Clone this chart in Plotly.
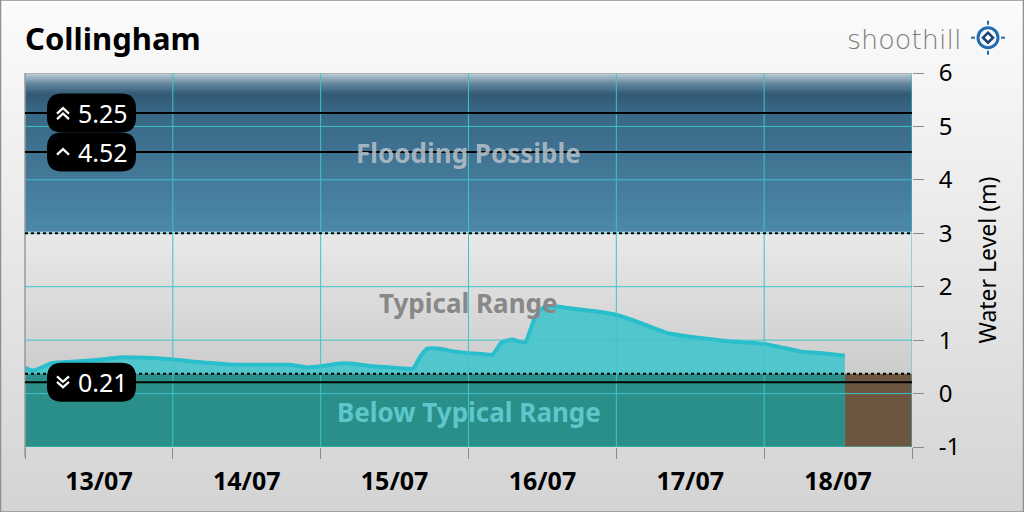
import plotly.graph_objects as go
import pandas as pd

# ---------------- data ----------------
station = "Collingham"
start_date = "2025-07-13"
end_date = "2025-07-19"
hours = [0, 1.3, 4.4, 7.0, 10.6, 13.5, 15.7, 19.5, 24, 28.1, 32.5, 35.7, 40.3, 43.0,
         45.8, 48, 50.7, 53.3, 56.5, 59.3, 63.0, 64.1, 65.3, 67.4, 69.5, 74.2, 75.9,
         77.4, 79.0, 81.2, 82.0, 82.8, 83.9, 85.6, 88.2, 92.6, 95.8, 100.2, 104.4,
         109.6, 114.4, 120, 122.6, 125.8, 129.1, 133.1]
levels = [0.48, 0.43, 0.57, 0.59, 0.62, 0.65, 0.68, 0.67, 0.64, 0.59, 0.55, 0.54, 0.54, 0.54,
          0.49, 0.51, 0.56, 0.56, 0.51, 0.49, 0.47, 0.68, 0.84, 0.84, 0.79, 0.74, 0.73,
          0.96, 1.01, 0.96, 1.18, 1.43, 1.59, 1.64, 1.60, 1.54, 1.48, 1.31, 1.13,
          1.04, 0.98, 0.93, 0.87, 0.79, 0.76, 0.71]
typical_low = 0.37
typical_high = 3.0
y_min, y_max = -1, 6
y_tickvals = [-1, 0, 1, 2, 3, 4, 5, 6]
y_ticktext = ["-1", "0", "1", "2", "3", "4", "5", "6"]
thresholds = [5.25, 4.52, 0.21]
threshold_icons = ["up2", "up1", "down2"]
zone_labels = ["Flooding Possible", "Typical Range", "Below Typical Range"]
zone_label_levels = [4.5, 1.69, -0.34]
zone_label_colors = ["rgba(178,190,200,0.9)", "#888888", "#5ec7cb"]
y_title = "Water Level (m)"

# ---------------- helpers ----------------
PL, PR, PT, PB = 25, 912, 73.3, 446.7
def px(x):
    return (x - PL) / (PR - PL)
def py(y):
    return (PB - y) / (PB - PT)
def lerp(c1, c2, f):
    return tuple(round(a + (b - a) * f) for a, b in zip(c1, c2))
def piece(knots, v):
    for (v1, c1), (v2, c2) in zip(knots, knots[1:]):
        if v1 <= v <= v2:
            return lerp(c1, c2, (v - v1) / (v2 - v1) if v2 != v1 else 0)
    return knots[-1][1]
def rgb(c):
    return "rgb(%d,%d,%d)" % c

t0 = pd.Timestamp(start_date)
t_end = pd.Timestamp(end_date)
times = [t0 + pd.Timedelta(hours=h) for h in hours]
last_time = times[-1]
days = pd.date_range(t0, t_end, freq="D")

FONT = "Noto Sans"
fig = go.Figure()
fig.add_trace(go.Scatter(
    x=times, y=levels, mode="lines",
    line=dict(color="#28becc", width=4, shape="spline", smoothing=0.5),
    fill="tozeroy", fillcolor="#52c6cd", hoverinfo="skip", showlegend=False))

shapes = []
# page background gradient
n = 40
for i in range(n):
    y0p, y1p = 512 * i / n, 512 * (i + 1) / n
    c = lerp((251, 251, 251), (212, 212, 212), (i + 0.5) / n)
    shapes.append(dict(type="rect", xref="paper", yref="paper", x0=px(0), x1=px(1024),
                       y0=py(y1p + 1), y1=py(y0p), fillcolor=rgb(c), line_width=0, layer="below"))
# flood zone gradient
flood_knots = [(3.0, (77, 137, 168)), (5.3, (57, 103, 133)), (5.6, (50, 90, 118)),
               (5.8, (100, 134, 157)), (6.0, (196, 209, 219))]
n = 70
for i in range(n):
    v0 = typical_high + (y_max - typical_high) * i / n
    v1 = typical_high + (y_max - typical_high) * (i + 1) / n
    c = piece(flood_knots, (v0 + v1) / 2)
    shapes.append(dict(type="rect", xref="x domain", yref="y", x0=0, x1=1, y0=v0, y1=min(v1 + 0.03, y_max),
                       fillcolor=rgb(c), line_width=0, layer="below"))
# typical zone gradient
n = 40
for i in range(n):
    v0 = typical_low + (typical_high - typical_low) * i / n
    v1 = typical_low + (typical_high - typical_low) * (i + 1) / n
    c = lerp((204, 204, 204), (233, 233, 233), (i + 0.5) / n)
    shapes.append(dict(type="rect", xref="x domain", yref="y", x0=0, x1=1, y0=v0, y1=v1 + 0.03,
                       fillcolor=rgb(c), line_width=0, layer="below"))
# below-typical zone: teal under data, brown after data end
shapes.append(dict(type="rect", xref="x", yref="y", x0=t0, x1=last_time, y0=y_min, y1=typical_low,
                   fillcolor="#2a8f89", line_width=0, layer="above"))
shapes.append(dict(type="rect", xref="x", yref="y", x0=last_time, x1=t_end, y0=y_min, y1=typical_low,
                   fillcolor="#6d5640", line_width=0, layer="above"))
# grid lines (above fills)
grid_c = "#3fc3c9"
for d in days[1:]:
    shapes.append(dict(type="line", xref="x", yref="y domain", x0=d, x1=d, y0=0, y1=1,
                       line=dict(color=grid_c, width=1), layer="above"))
for v in range(y_min, y_max):
    shapes.append(dict(type="line", xref="x domain", yref="y", x0=0, x1=1, y0=v, y1=v,
                       line=dict(color=grid_c, width=1), layer="above"))
shapes.append(dict(type="line", xref="x domain", yref="y", x0=0, x1=1, y0=y_max, y1=y_max,
                   line=dict(color="#9a9a9a", width=1), layer="above"))
shapes.append(dict(type="line", xref="paper", yref="paper", x0=0, x1=0, y0=py(457), y1=1,
                   line=dict(color="#9a9a9a", width=1.5), layer="above"))
# dotted zone boundaries
for v in (typical_high, typical_low):
    shapes.append(dict(type="line", xref="x domain", yref="y", x0=0, x1=1, y0=v, y1=v,
                       line=dict(color="black", width=2, dash="dot"), layer="above"))
# threshold lines
for v in thresholds:
    shapes.append(dict(type="line", xref="x domain", yref="y", x0=0, x1=1, y0=v, y1=v,
                       line=dict(color="black", width=2), layer="above"))

# threshold labels (rounded pills)
box_cx = px(91.5)
W, H, R = 44.5, 19.5, 15
pill = (f"M {-W+R},{-H} L {W-R},{-H} Q {W},{-H} {W},{-H+R} L {W},{H-R} Q {W},{H} {W-R},{H} "
        f"L {-W+R},{H} Q {-W},{H} {-W},{H-R} L {-W},{-H+R} Q {-W},{-H} {-W+R},{-H} Z")
chev = {
    "up2": ["M -6,-0.5 L 0,5 L 6,-0.5", "M -6,-6 L 0,-0.5 L 6,-6"],
    "up1": ["M -6,-2.5 L 0,3 L 6,-2.5"],
    "down2": ["M -6,6 L 0,0.5 L 6,6", "M -6,0.5 L 0,-5 L 6,0.5"],
}
annotations = []
for v, ic in zip(thresholds, threshold_icons):
    shapes.append(dict(type="path", xref="paper", yref="y", xsizemode="pixel", ysizemode="pixel",
                       xanchor=box_cx, yanchor=v, path=pill, fillcolor="black",
                       line_width=0, layer="above"))
    for p in chev[ic]:
        shapes.append(dict(type="path", xref="paper", yref="y", xsizemode="pixel", ysizemode="pixel",
                           xanchor=px(63), yanchor=v, path=p,
                           line=dict(color="white", width=2.2), layer="above"))
    annotations.append(dict(xref="paper", yref="y", x=px(103), y=v, text=f"{v:.2f}",
                            showarrow=False, font=dict(family=FONT, size=25, color="white"),
                            xanchor="center", yanchor="middle"))

# zone labels
for t, v, c in zip(zone_labels, zone_label_levels, zone_label_colors):
    annotations.append(dict(xref="paper", yref="y", x=0.5, y=v, text=t, showarrow=False,
                            font=dict(family=FONT, size=26, color=c, weight="bold"),
                            xanchor="center", yanchor="middle"))

# title
annotations.append(dict(xref="paper", yref="paper", x=px(23), y=py(38), text=station,
                        showarrow=False, xanchor="left", yanchor="middle",
                        font=dict(family=FONT, size=31, color="black", weight="bold")))
# logo
annotations.append(dict(xref="paper", yref="paper", x=px(904), y=py(40), text="shoothill",
                        showarrow=False, xanchor="center", yanchor="middle",
                        font=dict(family="DejaVu Sans", size=27, color="#7c7c7c", weight=200)))
lx, ly = px(988), py(38)
blue = "#1f6db0"
shapes.append(dict(type="circle", xref="paper", yref="paper", xsizemode="pixel", ysizemode="pixel",
                   xanchor=lx, yanchor=ly, x0=-10, x1=10, y0=-10, y1=10,
                   line=dict(color=blue, width=3), layer="above"))
shapes.append(dict(type="path", xref="paper", yref="paper", xsizemode="pixel", ysizemode="pixel",
                   xanchor=lx, yanchor=ly, path="M 0,5 L 5,0 L 0,-5 L -5,0 Z",
                   line=dict(color="#17407a", width=2.5), layer="above"))
for p in ["M 0,13 L 0,17", "M 0,-13 L 0,-17", "M 13,0 L 17,0", "M -13,0 L -17,0"]:
    shapes.append(dict(type="path", xref="paper", yref="paper", xsizemode="pixel", ysizemode="pixel",
                       xanchor=lx, yanchor=ly, path=p, line=dict(color=blue, width=2), layer="above"))
# page border
shapes.append(dict(type="rect", xref="paper", yref="paper", x0=px(0.5), x1=px(1023.5),
                   y0=py(511.5), y1=py(0.5), line=dict(color="#8f8f8f", width=1.5),
                   fillcolor="rgba(0,0,0,0)", layer="above"))

fig.update_layout(
    width=1024, height=512,
    margin=dict(l=25, r=112, t=73, b=65, pad=0),
    paper_bgcolor="#e6e6e6", plot_bgcolor="rgba(0,0,0,0)",
    shapes=shapes, annotations=annotations, hovermode=False, showlegend=False,
    xaxis=dict(type="date", range=[t0, t_end], showgrid=False, zeroline=False, showline=False,
               tick0=t0, dtick=86400000, tickformat="%d/%m", ticklabelmode="period",
               ticks="outside", ticklen=11, tickcolor="#8a8a8a", tickwidth=1,
               ticklabelstandoff=1,
               tickfont=dict(family=FONT, size=25, color="black", weight="bold")),
    yaxis=dict(range=[y_min, y_max], side="right", showgrid=False, zeroline=False,
               tickvals=y_tickvals, ticktext=y_ticktext,
               showline=False, ticks="outside", ticklen=11, tickcolor="#8a8a8a", tickwidth=1,
               ticklabelstandoff=10,
               tickfont=dict(family=FONT, size=24, color="black"),
               title=dict(text=y_title, standoff=20, font=dict(family=FONT, size=23, color="black"))),
)
fig.write_html("out.html", config={"displayModeBar": False, "staticPlot": True},
               post_script="document.body.style.margin='0px';document.body.style.overflow='hidden';")
